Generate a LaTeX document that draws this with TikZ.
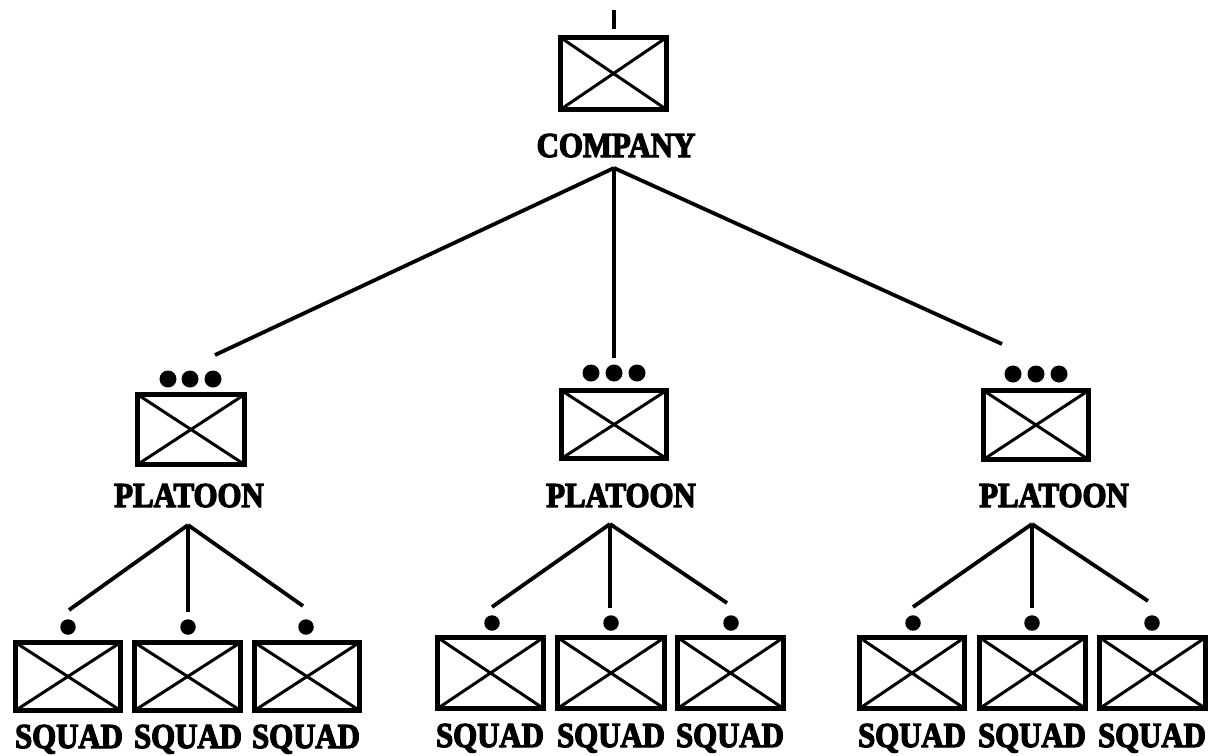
\documentclass[tikz,border=0pt]{standalone}
\usepackage{fontspec}
\newfontfamily\stencil{Liberation Serif}[FakeStretch=0.88, FakeBold=3.5]
\newcommand{\milunit}[5]{%
  \node[unitbox, minimum width=#4pt, minimum height=#5pt] (#1) at (#2,#3) {};
  \draw[crossline] (#1.north west) -- (#1.south east);
  \draw[crossline] (#1.south west) -- (#1.north east);
}
\begin{document}
\begin{tikzpicture}[x=1pt,y=-1pt,
  unitbox/.style={draw, line width=4.6pt, outer sep=0pt, inner sep=0pt, fill=white},
  crossline/.style={line width=3pt},
  link/.style={line width=3.8pt},
  lbl/.style={font=\stencil\bfseries\fontsize{35}{35}\selectfont, inner sep=0pt, anchor=base},
  echelon/.style={circle, fill=black, inner sep=0pt, minimum size=15.5pt},
  bigechelon/.style={echelon, minimum size=17pt}]
\useasboundingbox (0,0) rectangle (1218,755);

% ---------- company ----------
\milunit{co}{613.5}{73.5}{106}{72}
\coordinate (coTickTop) at (614,10);
\coordinate (coTickBot) at (614,29);
\draw[link] (coTickTop) -- (coTickBot);
\node[lbl] (coL) at (616,157) {COMPANY};
\coordinate (coApex) at (614,168);

% ---------- platoons ----------
\milunit{pL}{191}{429.5}{107}{70}
\milunit{pM}{614}{424.5}{105}{68}
\milunit{pR}{1036}{425}{105}{69}
\foreach \x/\n in {168/1,190/2,213/3} \node[bigechelon] (pLd\n) at (\x,379) {};
\foreach \x/\n in {591/1,614/2,637/3} \node[bigechelon] (pMd\n) at (\x,373) {};
\foreach \x/\n in {1013/1,1036/2,1059/3} \node[bigechelon] (pRd\n) at (\x,374) {};
\node[lbl] (pLL) at (189,507) {PLATOON};
\node[lbl] (pML) at (621,507) {PLATOON};
\node[lbl] (pRL) at (1054,507) {PLATOON};

\coordinate (pLtop) at (215,355);
\coordinate (pMtop) at (614,358);
\coordinate (pRtop) at (1002,344);
\draw[link] (coApex) -- (pLtop);
\draw[link] (coApex) -- (pMtop);
\draw[link] (coApex) -- (pRtop);

\coordinate (pLapex) at (188,525);
\coordinate (pMapex) at (610,524);
\coordinate (pRapex) at (1032,524);

% ---------- squads (left) ----------
\milunit{sL1}{68}{676.5}{105}{68}
\milunit{sL2}{187.5}{676.5}{106}{68}
\milunit{sL3}{307}{676.5}{105}{68}
\foreach \x/\n in {68/1,188/2,306/3} \node[echelon] (sLd\n) at (\x,627) {};
\coordinate (sL1top) at (69,610);
\coordinate (sL2top) at (188,612);
\coordinate (sL3top) at (303,606);
\draw[link] (pLapex) -- (sL1top);
\draw[link] (pLapex) -- (sL2top);
\draw[link] (pLapex) -- (sL3top);
\node[lbl] (sL1L) at (69,748) {SQUAD};
\node[lbl] (sL2L) at (188,748) {SQUAD};
\node[lbl] (sL3L) at (306,748) {SQUAD};

% ---------- squads (middle) ----------
\milunit{sM1}{490.5}{673}{106}{71}
\milunit{sM2}{611}{673}{107}{71}
\milunit{sM3}{730.5}{673}{106}{71}
\foreach \x/\n in {492/1,611/2,731/3} \node[echelon] (sMd\n) at (\x,623) {};
\coordinate (sM1top) at (492,607);
\coordinate (sM2top) at (610,608);
\coordinate (sM3top) at (727,603);
\draw[link] (pMapex) -- (sM1top);
\draw[link] (pMapex) -- (sM2top);
\draw[link] (pMapex) -- (sM3top);
\node[lbl] (sM1L) at (490,747) {SQUAD};
\node[lbl] (sM2L) at (611,747) {SQUAD};
\node[lbl] (sM3L) at (730,747) {SQUAD};

% ---------- squads (right) ----------
\milunit{sR1}{912}{673}{105}{71}
\milunit{sR2}{1032.5}{673}{106}{71}
\milunit{sR3}{1152.5}{673}{106}{71}
\foreach \x/\n in {913/1,1032/2,1152/3} \node[echelon] (sRd\n) at (\x,623) {};
\coordinate (sR1top) at (913,607);
\coordinate (sR2top) at (1032,608);
\coordinate (sR3top) at (1148,601);
\draw[link] (pRapex) -- (sR1top);
\draw[link] (pRapex) -- (sR2top);
\draw[link] (pRapex) -- (sR3top);
\node[lbl] (sR1L) at (912,747) {SQUAD};
\node[lbl] (sR2L) at (1032,747) {SQUAD};
\node[lbl] (sR3L) at (1152,747) {SQUAD};
\end{tikzpicture}
\end{document}
